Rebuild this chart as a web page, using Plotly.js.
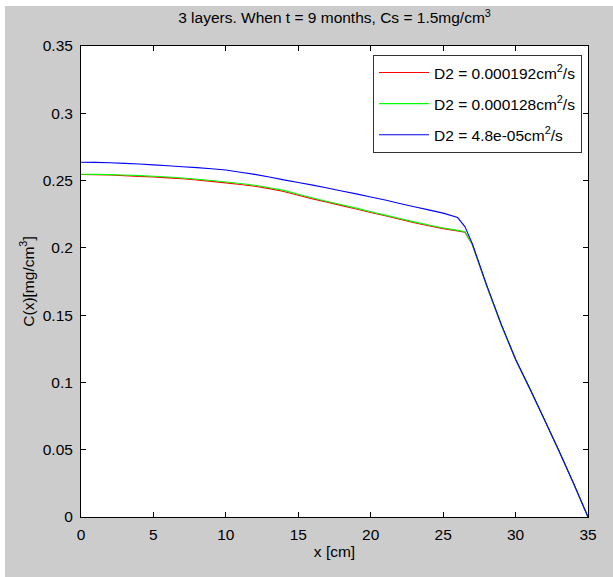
<!DOCTYPE html>
<html>
<head>
<meta charset="utf-8">
<script src="https://cdn.plot.ly/plotly-3.0.1.min.js"></script>
<style>
html, body { margin: 0; padding: 0; background: #ffffff; width: 613px; height: 577px; overflow: hidden; }
#chart { position: absolute; left: 5px; top: 6px; width: 608px; height: 571px; }
</style>
</head>
<body>
<div id="chart"></div>
<script>
// x positions [cm]
const xRed = [0,1,2,3,4,5,6,7,8,9,10,11,12,13,14,15,16,17,18,19,20,21,22,23,24,25,26,26.5,27,28,29,30,31,32,33,34,35];
const xGreen = [0,1,2,3,4,5,6,7,8,9,10,11,12,13,14,15,16,17,18,19,20,21,22,23,24,25,26,26.5,27,28,29,30,31,32,33,34,35];
const xBlue = [0,1,2,3,4,5,6,7,8,9,10,11,12,13,14,15,16,17,18,19,20,21,22,23,24,25,26,26.5,27,28,29,30,31,32,33,34,35];

// C(x) [mg/cm^3]
const cRed = [0.2545,0.2544,0.2541,0.2536,0.2531,0.2526,0.2520,0.2513,0.2504,0.2494,0.2483,0.2471,0.2458,0.2440,0.2419,0.2391,0.2364,0.2340,0.2314,0.2289,0.2263,0.2238,0.2213,0.2187,0.2164,0.2143,0.2126,0.2117,0.2028,0.1718,0.1430,0.1170,0.0950,0.0720,0.0490,0.0250,0.0];
const cGreen = [0.2547,0.2546,0.2544,0.2541,0.2537,0.2532,0.2526,0.2519,0.2510,0.2500,0.2489,0.2478,0.2465,0.2447,0.2427,0.2398,0.2370,0.2345,0.2320,0.2295,0.2268,0.2243,0.2218,0.2193,0.2170,0.2148,0.2130,0.2120,0.2030,0.1720,0.1430,0.1170,0.0950,0.0720,0.0490,0.0250,0.0];
const cBlue = [0.2636,0.2635,0.2632,0.2628,0.2623,0.2617,0.2610,0.2603,0.2596,0.2588,0.2578,0.2562,0.2546,0.2527,0.2505,0.2486,0.2466,0.2445,0.2423,0.2401,0.2378,0.2355,0.2330,0.2305,0.2282,0.2258,0.2225,0.2158,0.2035,0.1725,0.1435,0.1172,0.0952,0.0722,0.0491,0.0251,0.0];

const seriesNames = ["D2 = 0.000192cm<sup>2</sup>/s", "D2 = 0.000128cm<sup>2</sup>/s", "D2 = 4.8e-05cm<sup>2</sup>/s"];
const seriesColors = ["#ff0000", "#00ff00", "#0000ff"];

const xTickVals = [0,5,10,15,20,25,30,35];
const xTickText = ["0","5","10","15","20","25","30","35"];
const yTickVals = [0,0.05,0.1,0.15,0.2,0.25,0.3,0.35];
const yTickText = ["0","0.05","0.1","0.15","0.2","0.25","0.3","0.35"];

const FONT = "Liberation Sans, Arial, sans-serif";
const FS = 15.5;

const xs = [xRed, xGreen, xBlue];
const cs = [cRed, cGreen, cBlue];
const traces = xs.map((x, i) => ({
  x: x, y: cs[i], type: 'scatter', mode: 'lines',
  name: seriesNames[i], legendgroup: 'g' + i,
  line: { color: seriesColors[i], width: 1.1, simplify: false },
  hoverinfo: 'skip'
}));

const axisCommon = {
  showgrid: false, zeroline: false, showline: true, linecolor: '#000000', linewidth: 1,
  mirror: 'allticks', ticks: 'inside', ticklen: 5, tickwidth: 1, tickcolor: '#000000',
  tickfont: { family: FONT, size: FS, color: '#000000' }
};

const layout = {
  width: 608, height: 571,
  margin: { l: 76, r: 25, t: 40, b: 60, pad: 0 },
  paper_bgcolor: '#cccccc', plot_bgcolor: '#ffffff',
  font: { family: FONT, size: FS, color: '#000000' },
  title: { text: '3 layers. When t = 9 months, Cs = 1.5mg/cm<sup>3</sup>', x: 0.5, xref: 'paper', xanchor: 'center', y: 0.979, yref: 'container', yanchor: 'middle', font: { family: FONT, size: FS, color: '#000000' } },
  xaxis: Object.assign({}, axisCommon, {
    range: [0, 35], tickmode: 'array', tickvals: xTickVals, ticktext: xTickText,
    ticklabelstandoff: 3,
    title: { text: 'x [cm]', font: { family: FONT, size: FS, color: '#000000' }, standoff: 4 }
  }),
  yaxis: Object.assign({}, axisCommon, {
    range: [0, 0.35], tickmode: 'array', tickvals: yTickVals, ticktext: yTickText,
    ticklabelstandoff: 4,
    title: { text: 'C(x)[mg/cm<sup>3</sup>]', font: { family: FONT, size: FS, color: '#000000' }, standoff: 4 }
  }),
  showlegend: true,
  legend: {
    x: 0.576, y: 0.981, xanchor: 'left', yanchor: 'top',
    bgcolor: '#ffffff', bordercolor: '#333333', borderwidth: 1,
    font: { family: FONT, size: FS, color: '#000000' },
    traceorder: 'grouped', tracegroupgap: 8, itemwidth: 50
  }
};

Plotly.newPlot('chart', traces, layout, { staticPlot: true, displayModeBar: false });
</script>
</body>
</html>
